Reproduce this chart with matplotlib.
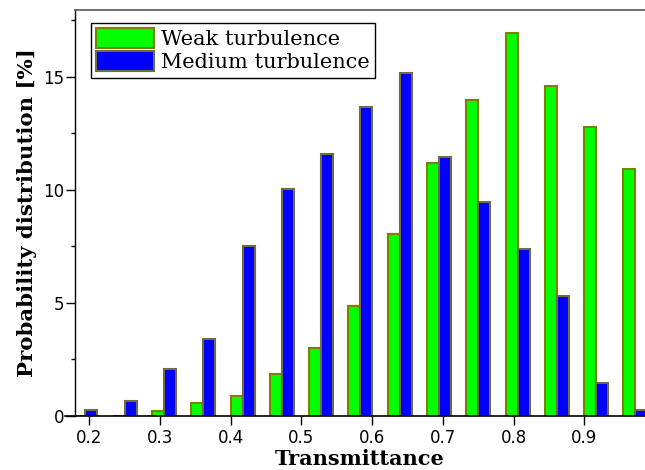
import matplotlib
matplotlib.use("Agg")
import matplotlib.pyplot as plt
from matplotlib.patches import Patch
from matplotlib.ticker import MultipleLocator

# Bin centers (transmittance)
transmittance = [0.194, 0.250, 0.306, 0.361, 0.417, 0.472, 0.528, 0.583,
                 0.639, 0.694, 0.750, 0.806, 0.861, 0.917, 0.972]
weak = [0.0, 0.0, 0.23, 0.59, 0.88, 1.84, 2.99, 4.88,
        8.05, 11.18, 13.98, 16.92, 14.60, 12.76, 10.91]
medium = [0.27, 0.68, 2.09, 3.39, 7.53, 10.02, 11.58, 13.65,
          15.18, 11.45, 9.47, 7.38, 5.31, 1.47, 0.25]
series_labels = ["Weak turbulence", "Medium turbulence"]
xticks = [0.2, 0.3, 0.4, 0.5, 0.6, 0.7, 0.8, 0.9]
yticks = [0, 5, 10, 15]

green = "#00ff00"
blue = "#0000ff"
edge_g = "#808000"
edge_b = "#6e6e40"

fig = plt.figure(figsize=(6.45, 4.70), dpi=100)
ax = fig.add_axes([75/645, 54/470, 570/645, 406/470])

bw = 0.0170
ax.bar(transmittance, weak, width=-bw, align="edge", color=green,
       edgecolor=edge_g, linewidth=1.5, zorder=2)
ax.bar(transmittance, medium, width=bw, align="edge", color=blue,
       edgecolor=edge_b, linewidth=1.5, zorder=2)

ax.set_xlim(0.1798, 0.9859)
ax.set_ylim(0, 17.95)

ax.set_xticks(xticks)
ax.set_xticklabels([f"{v:.1f}" for v in xticks])
ax.set_yticks(yticks)
ax.yaxis.set_minor_locator(MultipleLocator(2.5))

for lab in ax.get_xticklabels() + ax.get_yticklabels():
    lab.set_family("DejaVu Sans")
    lab.set_fontsize(12)

ax.tick_params(axis="x", which="major", direction="out", length=6.5,
               width=1.0, color="black", pad=3)
ax.tick_params(axis="y", which="major", direction="out", length=6.5,
               width=1.0, color="black", pad=1.5)
ax.tick_params(axis="y", which="minor", direction="out", length=3,
               width=1.0, color="black")

ax.spines["right"].set_visible(False)
ax.spines["top"].set_color("#555555")
ax.spines["top"].set_linewidth(1.2)
ax.spines["left"].set_linewidth(1.0)
ax.spines["bottom"].set_linewidth(1.2)
ax.spines["bottom"].set_bounds(0.1656, 0.9859)

ax.set_xlabel("Transmittance", family="DejaVu Serif", fontweight="bold",
              fontsize=15, labelpad=1)
ax.set_ylabel("Probability distribution [%]", family="DejaVu Serif",
              fontweight="bold", fontsize=15.3, labelpad=4)

handles = [Patch(facecolor=green, edgecolor=edge_g, linewidth=1.5),
           Patch(facecolor=blue, edgecolor=edge_b, linewidth=1.5)]
leg = ax.legend(handles, series_labels, loc="upper left",
                bbox_to_anchor=(16/570, 393/406), borderaxespad=0,
                prop={"family": "DejaVu Serif", "size": 15},
                frameon=True, fancybox=False, framealpha=1,
                handlelength=2.75, handleheight=1.1, handletextpad=0.35,
                labelspacing=0.1, borderpad=0.25)
leg.get_frame().set_edgecolor("black")
leg.get_frame().set_linewidth(1.0)

fig.savefig("out.png", dpi=100)
